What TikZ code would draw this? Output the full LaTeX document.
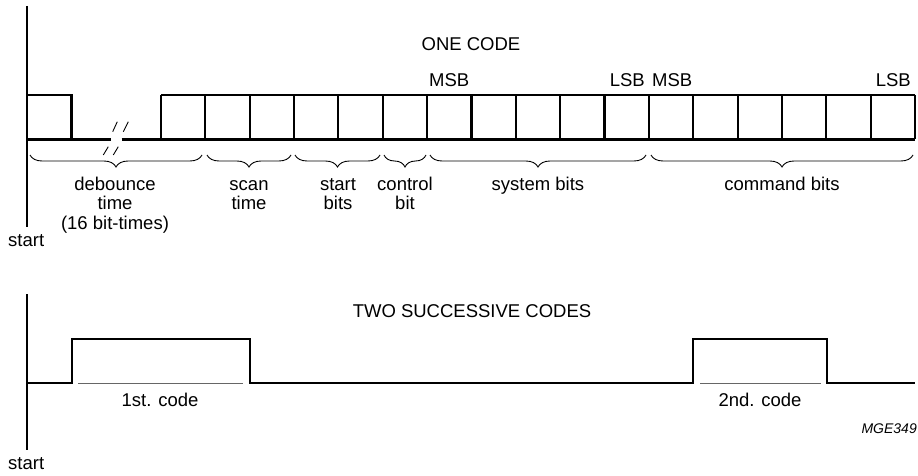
\documentclass[tikz,border=0pt]{standalone}
\usepackage{fontspec}
\setmainfont{Liberation Sans}
\usetikzlibrary{decorations.pathreplacing}
\begin{document}
\begin{tikzpicture}[x=1pt,y=-1pt,
  wave/.style={line width=2.1pt, line join=miter},
  startline/.style={line width=1.2pt},
  lbl/.style={font={\fontsize{18.5}{19.5}\selectfont}, inner sep=0pt, align=center},
  thinline/.style={line width=0.9pt, draw=black!60},
  brc/.style={decorate, decoration={brace, mirror, amplitude=12pt}, line width=0.9pt},
  brk/.style={line width=0.9pt}]
\useasboundingbox (0,0) rectangle (918,476);
% ---------- top diagram ----------
\draw[startline] (27,6) -- (27,227);
\node[lbl, anchor=base west] (start1) at (8,246) {start};
\node[lbl, anchor=base] (onecode) at (471,51) {ONE CODE};
% first pulse
\draw[wave] (27,95) -- (71.5,95) -- (71.5,139.5);
% baseline with break
\draw[wave] (27,139.5) -- (110.7,139.5);
\draw[wave] (121.7,139.5) -- (915,139.5);
% bit cells
\draw[wave] (161,95) -- (915,95);
\foreach \k in {0,...,17}{
  \draw[wave] ({161+\k*44.35},95) -- ({161+\k*44.35},139.5);
}
% break marks
\draw[brk] (112.7,131.7) -- (117.3,121.7);
\draw[brk] (123.3,131.7) -- (128.3,121.7);
\draw[brk] (103.3,155) -- (108.3,146.7);
\draw[brk] (113.3,155) -- (118.3,146.7);
% MSB / LSB
\node[lbl, anchor=base west] (msb1) at (429,87) {MSB};
\node[lbl, anchor=base east] (lsb1) at (645,87) {LSB};
\node[lbl, anchor=base west] (msb2) at (652,87) {MSB};
\node[lbl, anchor=base east] (lsb2) at (911,87) {LSB};
% braces
\coordinate (d1) at (30,155);  \coordinate (d2) at (202,155);
\coordinate (s1) at (207,155); \coordinate (s2) at (291,155);
\coordinate (t1) at (295,155); \coordinate (t2) at (380,155);
\coordinate (c1) at (384,155); \coordinate (c2) at (426,155);
\coordinate (y1) at (430,155); \coordinate (y2) at (646,155);
\coordinate (m1) at (651,155); \coordinate (m2) at (913,155);
\draw[brc] (d1) -- (d2);
\draw[brc] (s1) -- (s2);
\draw[brc] (t1) -- (t2);
\draw[brc] (c1) -- (c2);
\draw[brc] (y1) -- (y2);
\draw[brc] (m1) -- (m2);
% base anchor of a multi-line node is the baseline of its last line
\node[lbl, anchor=base] (deb) at (115,229) {debounce\\time\\(16 bit-times)};
\node[lbl, anchor=base] (scan) at (249,209.5) {scan\\time};
\node[lbl, anchor=base] (stb) at (338,209.5) {start\\bits};
\node[lbl, anchor=base] (ctl) at (405,209.5) {control\\bit};
\node[lbl, anchor=base] (sys) at (538,190) {system bits};
\node[lbl, anchor=base] (cmd) at (782,190) {command bits};
% ---------- bottom diagram ----------
\draw[startline] (27,294) -- (27,450);
\node[lbl, anchor=base west] (start2) at (8,469) {start};
\node[lbl, anchor=base] (twocodes) at (472,317) {TWO SUCCESSIVE CODES};
\draw[wave] (27,383) -- (72,383) -- (72,339) -- (250,339) -- (250,383)
  -- (693,383) -- (693,339) -- (827,339) -- (827,383) -- (915,383);
\draw[thinline] (78,383) -- (243,383);
\draw[thinline] (700,383) -- (821,383);
\node[lbl, anchor=base] (code1) at (160,406) {1st. code};
\node[lbl, anchor=base] (code2) at (760,406) {2nd. code};
\node[font={\fontsize{14}{16}\selectfont\itshape}, inner sep=0pt, anchor=base east] (ref) at (917,433) {MGE349};
\end{tikzpicture}
\end{document}
